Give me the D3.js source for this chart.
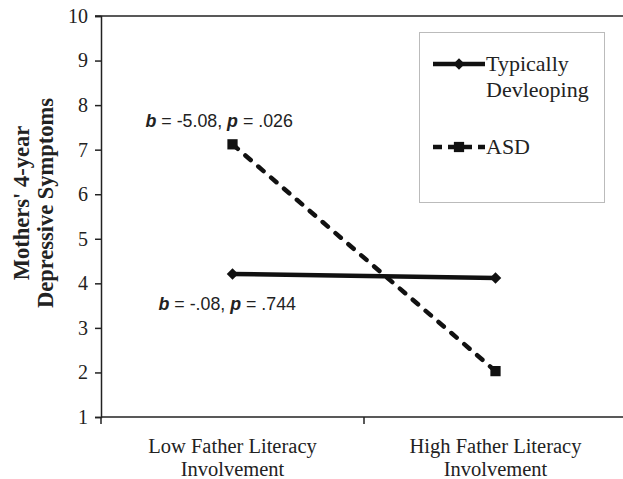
<!DOCTYPE html>
<html>
<head>
  <meta charset="utf-8">
  <script src="https://d3js.org/d3.v7.min.js"></script>
  <style>
    body { margin: 0; background: #fff; }
    .serif { font-family: "Liberation Serif", "Times New Roman", serif; fill: #222; }
    .anno { font-family: "Liberation Sans", Arial, sans-serif; font-size: 17.8px; fill: #222; }
  </style>
</head>
<body>
<script>
  // chart values
  var categories = ["Low Father Literacy|Involvement", "High Father Literacy|Involvement"];
  var typical = [4.21, 4.12];
  var asd = [7.12, 2.03];
  var yTicks = [1, 2, 3, 4, 5, 6, 7, 8, 9, 10];
  var seriesNames = ["Typically|Devleoping", "ASD"];
  var annotations = [
    { b: "-5.08", p: ".026" },
    { b: "-.08", p: ".744" }
  ];

  var width = 623, height = 479;
  var svg = d3.select("body").append("svg")
    .attr("width", width)
    .attr("height", height);

  var x = d3.scaleBand().domain(categories).range([101, 627]).padding(0);
  var y = d3.scaleLinear().domain([1, 10]).range([417, 16]);

  // top line at 10
  svg.append("line")
    .attr("x1", 95).attr("x2", 627)
    .attr("y1", y(10)).attr("y2", y(10))
    .attr("stroke", "#222").attr("stroke-width", 1.5);

  // y axis
  var yAxis = svg.append("g")
    .attr("transform", "translate(101,0)")
    .call(d3.axisLeft(y).tickValues(yTicks).tickSize(6).tickPadding(7));
  yAxis.select(".domain").attr("stroke", "#222").attr("stroke-width", 1.5);
  yAxis.selectAll(".tick line").attr("stroke", "#222").attr("stroke-width", 1.5);
  yAxis.selectAll(".tick text")
    .attr("class", "serif")
    .style("font-size", "20px")
    .attr("fill", "#222");

  // x axis (ticks between categories)
  var xAxisG = svg.append("g").attr("transform", "translate(0," + y(1) + ")");
  xAxisG.append("line")
    .attr("x1", 101).attr("x2", 627)
    .attr("stroke", "#222").attr("stroke-width", 1.5);
  xAxisG.selectAll("line.tk")
    .data(categories)
    .enter().append("line")
    .attr("class", "tk")
    .attr("x1", function (d) { return x(d); })
    .attr("x2", function (d) { return x(d); })
    .attr("y1", 0).attr("y2", 7)
    .attr("stroke", "#222").attr("stroke-width", 1.5);

  var catText = xAxisG.selectAll("text.cat")
    .data(categories)
    .enter().append("text")
    .attr("class", "serif cat")
    .attr("text-anchor", "middle")
    .style("font-size", "20.5px");
  catText.each(function (d) {
    var t = d3.select(this);
    d.split("|").forEach(function (line, i) {
      t.append("tspan")
        .attr("x", x(d) + x.bandwidth() / 2)
        .attr("y", 36 + i * 23)
        .text(line);
    });
  });

  // y title
  var yTitle = svg.append("text")
    .attr("class", "serif")
    .attr("text-anchor", "middle")
    .attr("transform", "translate(0,203) rotate(-90)")
    .style("font-size", "22.5px")
    .style("font-weight", "bold");
  ["Mothers' 4-year", "Depressive Symptoms"].forEach(function (line, i) {
    yTitle.append("tspan").attr("x", 0).attr("y", 29 + i * 24).text(line);
  });

  var cx = function (i) { return x(categories[i]) + x.bandwidth() / 2; };

  // lines
  var line = d3.line()
    .x(function (d, i) { return cx(i); })
    .y(function (d) { return y(d); });

  svg.append("path")
    .datum(typical)
    .attr("d", line)
    .attr("fill", "none")
    .attr("stroke", "#111")
    .attr("stroke-width", 4.5);

  svg.append("path")
    .datum(asd)
    .attr("d", line)
    .attr("fill", "none")
    .attr("stroke", "#111")
    .attr("stroke-width", 4.5)
    .attr("stroke-linecap", "round")
    .attr("stroke-dasharray", "7,10");

  var diamond = d3.symbol().type(d3.symbolDiamond2).size(85);
  var square = d3.symbol().type(d3.symbolSquare).size(105);

  svg.selectAll("path.td")
    .data(typical)
    .enter().append("path")
    .attr("class", "td")
    .attr("d", diamond)
    .attr("transform", function (d, i) { return "translate(" + cx(i) + "," + y(d) + ")"; })
    .attr("fill", "#111");

  svg.selectAll("path.asd")
    .data(asd)
    .enter().append("path")
    .attr("class", "asd")
    .attr("d", square)
    .attr("transform", function (d, i) { return "translate(" + cx(i) + "," + y(d) + ")"; })
    .attr("fill", "#111");

  // annotations
  function annotate(a, ax, ay) {
    var t = svg.append("text").attr("class", "anno").attr("x", ax).attr("y", ay);
    t.append("tspan").style("font-weight", "bold").style("font-style", "italic").text("b");
    t.append("tspan").text(" = " + a.b + ", ");
    t.append("tspan").style("font-weight", "bold").style("font-style", "italic").text("p");
    t.append("tspan").text(" = " + a.p);
  }
  annotate(annotations[0], cx(0) - 87, y(asd[0]) - 17);
  annotate(annotations[1], cx(0) - 74, y(typical[0]) + 36);

  // legend
  var lg = svg.append("g");
  lg.append("rect")
    .attr("x", 419.5).attr("y", 32.5)
    .attr("width", 185).attr("height", 170)
    .attr("fill", "#fff")
    .attr("stroke", "#bbb")
    .attr("stroke-width", 1);

  var legendY = [64, 147];
  seriesNames.forEach(function (name, i) {
    lg.append("line")
      .attr("x1", 433).attr("x2", 485)
      .attr("y1", legendY[i]).attr("y2", legendY[i])
      .attr("stroke", "#111")
      .attr("stroke-width", 4.5)
      .attr("stroke-dasharray", i === 1 ? "9,6" : null);
    lg.append("path")
      .attr("d", i === 0 ? diamond : square)
      .attr("transform", "translate(459," + legendY[i] + ")")
      .attr("fill", "#111");
    var t = lg.append("text")
      .attr("class", "serif")
      .style("font-size", "22px");
    name.split("|").forEach(function (ln, j) {
      t.append("tspan").attr("x", 486).attr("y", legendY[i] + 7 + j * 26).text(ln);
    });
  });
</script>
</body>
</html>
